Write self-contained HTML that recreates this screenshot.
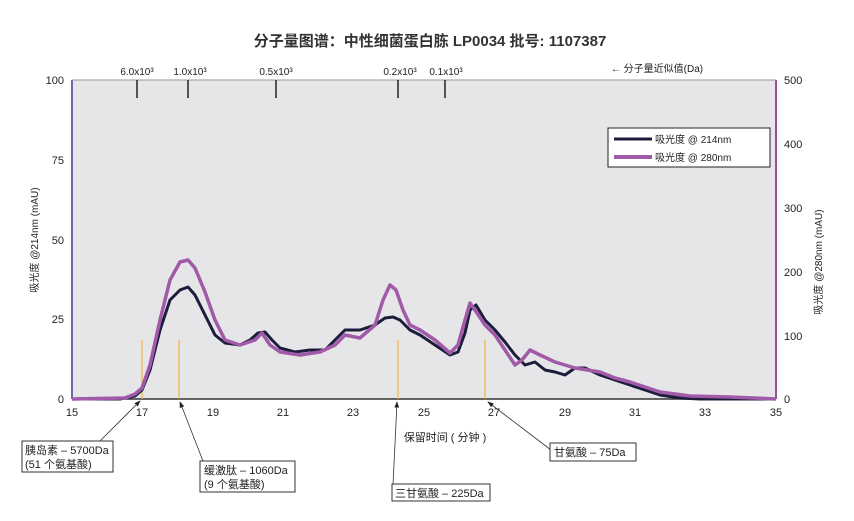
<!DOCTYPE html><html><head><meta charset="utf-8"><style>body{margin:0;background:#fff}svg{font-family:"Liberation Sans","Noto Sans CJK SC",sans-serif}</style></head><body>
<svg width="854" height="516" viewBox="0 0 854 516" xmlns="http://www.w3.org/2000/svg">
<defs><marker id="a" markerWidth="8" markerHeight="8" refX="7" refY="4" orient="auto"><path d="M0,1 L8,4 L0,7z" fill="#222"/></marker></defs>
<text x="430" y="46" font-size="15" font-weight="bold" text-anchor="middle" fill="#333">分子量图谱：中性细菌蛋白胨 LP0034  批号: 1107387</text>
<rect x="72" y="80" width="704" height="319" fill="#e6e6e8"/>
<line x1="72" y1="80" x2="72" y2="399" stroke="#6a6aa8" stroke-width="2"/>
<line x1="776" y1="80" x2="776" y2="399" stroke="#9a4f9c" stroke-width="2"/>
<line x1="72" y1="80" x2="776" y2="80" stroke="#999" stroke-width="1"/>
<line x1="72" y1="399" x2="776" y2="399" stroke="#333" stroke-width="1.5"/>
<g stroke="#222" stroke-width="1.5"><line x1="137" y1="80" x2="137" y2="98"/><line x1="188" y1="80" x2="188" y2="98"/><line x1="276" y1="80" x2="276" y2="98"/><line x1="398" y1="80" x2="398" y2="98"/><line x1="445" y1="80" x2="445" y2="98"/></g>
<g font-size="10" fill="#222" text-anchor="middle"><text x="137" y="75">6.0x10³</text><text x="190" y="75">1.0x10³</text><text x="276" y="75">0.5x10³</text><text x="400" y="75">0.2x10³</text><text x="446" y="75">0.1x10³</text><text x="657" y="72">← 分子量近似值(Da)</text></g>
<g font-size="11" fill="#222" text-anchor="end"><text x="64" y="84">100</text><text x="64" y="164">75</text><text x="64" y="244">50</text><text x="64" y="323">25</text><text x="64" y="403">0</text></g>
<g font-size="11" fill="#222"><text x="784" y="84">500</text><text x="784" y="148">400</text><text x="784" y="212">300</text><text x="784" y="276">200</text><text x="784" y="340">100</text><text x="784" y="403">0</text></g>
<g font-size="11" fill="#222" text-anchor="middle"><text x="72" y="416">15</text><text x="142" y="416">17</text><text x="213" y="416">19</text><text x="283" y="416">21</text><text x="353" y="416">23</text><text x="424" y="416">25</text><text x="494" y="416">27</text><text x="565" y="416">29</text><text x="635" y="416">31</text><text x="705" y="416">33</text><text x="776" y="416">35</text></g>
<text x="445" y="441" font-size="11" text-anchor="middle" fill="#222">保留时间 ( 分钟 )</text>
<text transform="translate(38,240) rotate(-90)" font-size="10" text-anchor="middle" fill="#222">吸光度 @214nm (mAU)</text>
<text transform="translate(822,262) rotate(-90)" font-size="10" text-anchor="middle" fill="#222">吸光度 @280nm (mAU)</text>
<g stroke="#f0b43c" stroke-width="1.2"><line x1="142" y1="340" x2="142" y2="399"/><line x1="179" y1="340" x2="179" y2="399"/><line x1="398" y1="340" x2="398" y2="399"/><line x1="485" y1="340" x2="485" y2="399"/></g>
<polyline fill="none" stroke="#1c1c3c" stroke-width="3" stroke-linejoin="round" points="72,399 120,399 135,396 142,390 150,370 160,330 170,300 180,290 188,287 195,295 205,315 215,335 225,343 240,345 250,340 258,333 265,332 272,340 280,348 295,352 310,350 325,350 335,340 345,330 360,330 375,325 385,318 393,317 400,320 410,330 420,335 435,345 450,355 458,352 465,333 470,310 476,305 485,320 495,330 505,342 515,355 525,365 535,362 545,370 555,372 565,375 575,368 585,368 600,375 615,380 630,385 645,390 660,395 680,398 700,399 776,399"/>
<polyline fill="none" stroke="#a05aa8" stroke-width="3.5" stroke-linejoin="round" points="72,399 125,398 135,394 142,388 150,365 160,320 170,280 180,262 188,260 195,268 205,292 215,320 225,340 240,345 255,340 262,333 270,345 280,352 300,355 320,352 335,345 345,335 360,338 375,325 383,300 390,285 396,290 403,310 410,325 420,330 435,340 450,353 458,345 465,320 470,303 475,310 485,325 495,335 505,350 515,365 522,360 530,350 540,355 555,362 575,368 600,372 615,378 630,382 645,387 660,392 690,396 730,397 776,399"/>
<rect x="608" y="128" width="162" height="39" fill="#fff" stroke="#222"/>
<line x1="614" y1="139" x2="652" y2="139" stroke="#1c1c3c" stroke-width="3"/>
<line x1="614" y1="157" x2="652" y2="157" stroke="#a05aa8" stroke-width="4"/>
<text x="655" y="143" font-size="10" fill="#222">吸光度 @ 214nm</text>
<text x="655" y="161" font-size="10" fill="#222">吸光度 @ 280nm</text>
<g stroke="#333" stroke-width="0.8" marker-end="url(#a)"><line x1="100" y1="441" x2="140" y2="401"/><line x1="203" y1="461" x2="180" y2="402"/><line x1="393" y1="485" x2="397" y2="402"/><line x1="551" y1="450" x2="488" y2="402"/></g>
<g fill="#fff" stroke="#333"><rect x="22" y="441" width="91" height="31"/><rect x="200" y="461" width="95" height="31"/><rect x="392" y="484" width="98" height="17"/><rect x="550" y="443" width="86" height="18"/></g>
<g font-size="11" fill="#222"><text x="25" y="454">胰岛素 – 5700Da</text><text x="25" y="468">(51 个氨基酸)</text><text x="204" y="474">缓激肽 – 1060Da</text><text x="204" y="488">(9 个氨基酸)</text><text x="395" y="497">三甘氨酸 – 225Da</text><text x="554" y="456">甘氨酸  – 75Da</text></g>
</svg></body></html>
